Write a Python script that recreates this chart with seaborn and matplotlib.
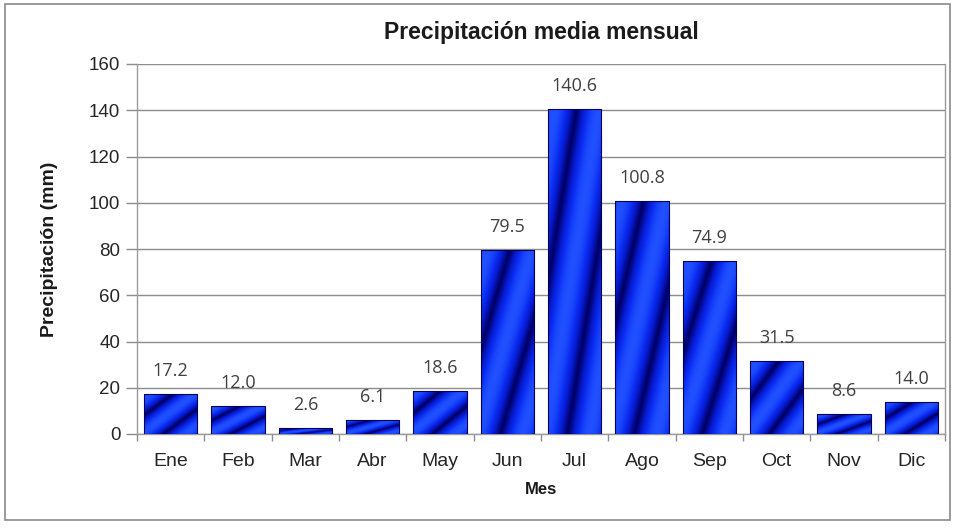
import numpy as np
import pandas as pd
import matplotlib
matplotlib.use("Agg")
import matplotlib.pyplot as plt
from matplotlib.colors import LinearSegmentedColormap
from matplotlib.patches import Rectangle
import seaborn as sns

meses = ["Ene", "Feb", "Mar", "Abr", "May", "Jun", "Jul", "Ago", "Sep", "Oct", "Nov", "Dic"]
precipitacion = [17.2, 12.0, 2.6, 6.1, 18.6, 79.5, 140.6, 100.8, 74.9, 31.5, 8.6, 14.0]
y_ticks = [0, 20, 40, 60, 80, 100, 120, 140, 160]

df = pd.DataFrame({"Mes": meses, "Precipitacion": precipitacion})

sns.set_theme(style="white")
plt.rcParams["font.family"] = ["Liberation Sans", "DejaVu Sans"]

fig = plt.figure(figsize=(9.54, 5.29), dpi=100)
ax = fig.add_axes([137 / 954, 1 - 434 / 529, (945 - 137) / 954, (434 - 64) / 529])

sns.barplot(data=df, x="Mes", y="Precipitacion", color="#0a1fd0", width=0.79,
            edgecolor="#00005a", linewidth=0.8, ax=ax, zorder=3)

# diagonal banded gradient fill, fitted to each bar
cmap = LinearSegmentedColormap.from_list(
    "banda", [(0.0, "#000066"), (0.35, "#0618c8"), (0.65, "#0a2cf2"), (1.0, "#2050ff")])
n = 120
u, v = np.meshgrid(np.linspace(0, 1, n), np.linspace(0, 1, n))
shade = 0.5 + 0.5 * np.cos(2 * np.pi * 1.2 * (u - v) + 0.4)
shade = shade ** 0.6
for patch in ax.patches:
    x0, y0 = patch.get_x(), patch.get_y()
    w, h = patch.get_width(), patch.get_height()
    im = ax.imshow(shade, cmap=cmap, origin="lower", aspect="auto", vmin=0, vmax=1,
                   extent=(x0, x0 + w, y0, y0 + h), zorder=3.5, interpolation="bilinear")
    im.set_clip_path(patch)
    patch.set_facecolor("none")
    patch.set_zorder(4)

ax.set_xlim(-0.5, len(meses) - 0.5)
ax.set_ylim(0, 160)
ax.set_yticks(y_ticks)
ax.set_yticklabels([str(t) for t in y_ticks])
ax.yaxis.grid(True, color="#8c8c8c", linewidth=1.0, zorder=0)
ax.set_axisbelow(True)

for side in ["left", "bottom", "right"]:
    ax.spines[side].set_visible(True)
    ax.spines[side].set_color("#9a9a9a")
    ax.spines[side].set_linewidth(1.0)
ax.spines["top"].set_visible(False)

ax.tick_params(axis="y", left=True, length=8, width=1, color="#8c8c8c",
               labelsize=13.5, labelcolor="#262626", pad=4)
ax.tick_params(axis="x", bottom=False, labelsize=14, labelcolor="#262626", pad=8)
ax.set_xticks(np.arange(-0.5, len(meses) - 0.4, 1.0), minor=True)
ax.tick_params(axis="x", which="minor", bottom=True, length=5, width=1, color="#8c8c8c")

ax.set_xlabel("Mes", fontsize=12, fontweight="bold", color="#1a1a1a", labelpad=8)
ax.set_ylabel("Precipitación (mm)", fontsize=14, fontweight="bold", color="#1a1a1a", labelpad=22)

for i, val in enumerate(precipitacion):
    ax.annotate(f"{val:.1f}", xy=(i, val), xytext=(0, 10), textcoords="offset points",
                ha="center", va="bottom", fontsize=13, color="#404040",
                family=["Open Sans", "DejaVu Sans"])

fig.text(541 / 954, 1 - 32 / 529, "Precipitación media mensual", ha="center", va="center",
         fontsize=16.5, fontweight="bold", color="#1a1a1a")

# outer chart frame
fig.patches.append(Rectangle((5 / 954, 1 - 520 / 529), 945 / 954, 516 / 529,
                             transform=fig.transFigure, fill=False,
                             edgecolor="#8a8a8a", linewidth=1.2))

fig.savefig("out.png", dpi=100)
